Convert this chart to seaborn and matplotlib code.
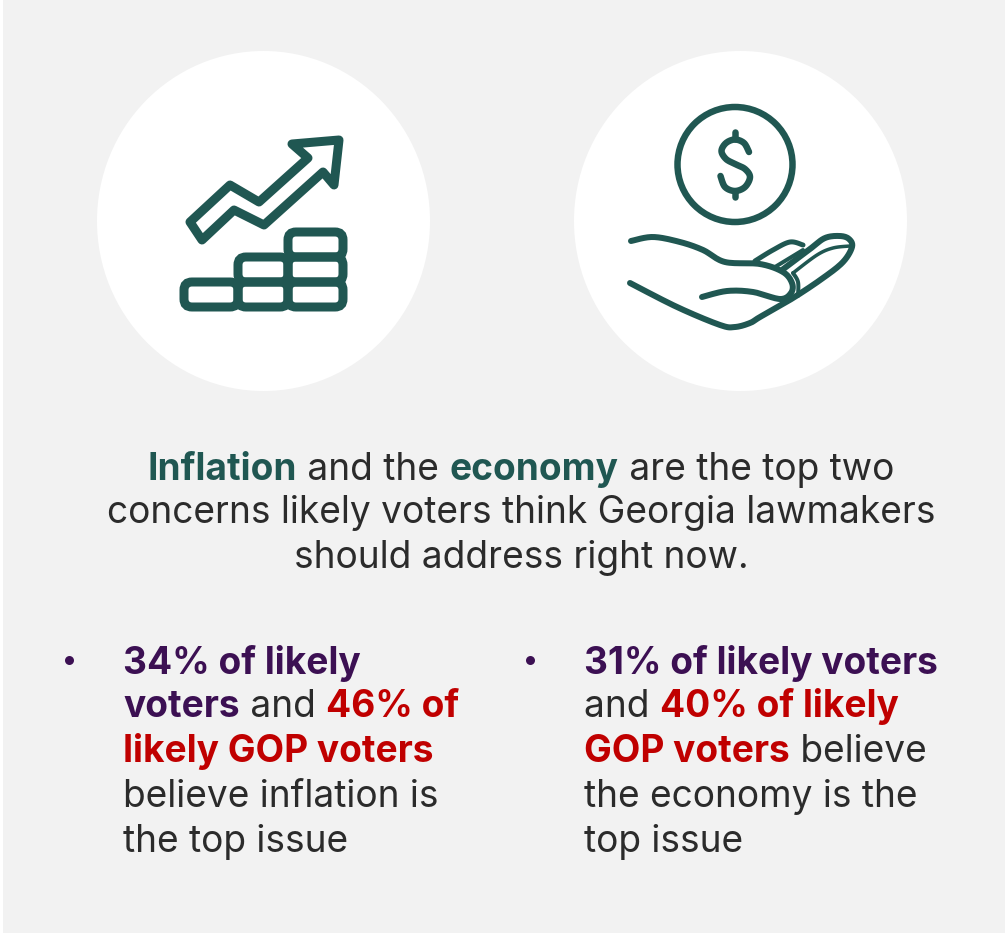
import matplotlib
matplotlib.use("Agg")
import matplotlib.pyplot as plt
from matplotlib.patches import Ellipse, FancyBboxPatch, Rectangle, Polygon, Circle
import numpy as np
import seaborn as sns

teal = "#205752"
purple = "#3c1053"
red = "#c00000"
ink = "#2b2b2b"
panel = "#f2f2f2"

# each line is a list of (text, colour, bold)
intro_lines = [
    [("Inflation", teal, True), (" and the ", ink, False), ("economy", teal, True), (" are the top two", ink, False)],
    [("concerns likely voters think Georgia lawmakers", ink, False)],
    [("should address right now.", ink, False)],
]
left_lines = [
    [("34% of likely", purple, True)],
    [("voters", purple, True), (" and ", ink, False), ("46% of", red, True)],
    [("likely GOP voters", red, True)],
    [("believe inflation is", ink, False)],
    [("the top issue", ink, False)],
]
right_lines = [
    [("31% of likely voters", purple, True)],
    [("and ", ink, False), ("40% of likely", red, True)],
    [("GOP voters", red, True), (" believe", ink, False)],
    [("the economy is the", ink, False)],
    [("top issue", ink, False)],
]
intro_base = [480, 523, 568]
bullet_base = [674, 717, 762, 807, 852]

# icon outlines, in picture pixels
arrow_outline = [(190, 222), (230, 185), (259, 202), (308, 158), (292, 144), (339, 140),
                 (334, 185), (323, 172), (264, 225), (234, 210), (202, 240)]
coins = [(184, 282, 54, 25), (238, 282, 50, 25), (288, 282, 55, 25),
         (238, 257, 50, 25), (288, 257, 55, 25), (288, 232, 55, 25)]
dollar_s = [(749, 152), (744, 143), (735, 139.5), (726, 143), (721.5, 151), (726, 159), (735, 164),
            (745, 169), (750, 177), (745, 187), (735, 191), (725, 187), (720.5, 176)]
palm_top = [(631, 241), (653, 237), (680, 242), (703, 250), (725, 262), (760, 264), (783, 272),
            (792, 283), (791, 293), (780, 299), (753, 292), (727, 291), (702, 297)]
palm_bottom = [(630, 283), (677, 307), (720, 325), (735, 327), (750, 323), (760, 317), (793, 298),
               (823, 278), (843, 262), (852, 247), (849, 239), (840, 236), (825, 238), (810, 249), (782, 270)]
finger_lines = [
    ([(755, 261), (773, 250), (790, 242), (803, 245)], 5),
    ([(775, 267), (803, 250)], 4),
    ([(793, 273), (817, 255), (833, 248), (850, 246)], 3.5),
    ([(793, 273), (798, 282), (798, 296)], 4),
]

sns.set_theme(style="white")
plt.rcParams["font.family"] = ["Inter", "DejaVu Sans"]

fig = plt.figure(figsize=(10.07, 9.33), dpi=100, facecolor="white")
ax = fig.add_axes([0, 0, 1, 1])
ax.set_xlim(0, 1007)
ax.set_ylim(933, 0)
ax.axis("off")


def px(w):
    return w * 72 / fig.dpi


def smooth(pts, n=14):
    # catmull-rom through the outline points, only for the icons
    p = np.array([pts[0]] + list(pts) + [pts[-1]], dtype=float)
    out = []
    for i in range(1, len(p) - 2):
        for t in np.linspace(0, 1, n, endpoint=False):
            out.append(0.5 * (2 * p[i] + (p[i + 1] - p[i - 1]) * t
                              + (2 * p[i - 1] - 5 * p[i] + 4 * p[i + 1] - p[i + 2]) * t ** 2
                              + (3 * p[i] - p[i - 1] - 3 * p[i + 1] + p[i + 2]) * t ** 3))
    out.append(p[-2])
    return np.array(out)


def stroke(pts, w=6.0):
    xy = smooth(pts)
    ax.plot(xy[:, 0], xy[:, 1], color=teal, lw=px(w), solid_capstyle="round", solid_joinstyle="round", zorder=3)


ax.add_patch(Rectangle((3, 0), 1002, 933, facecolor=panel, edgecolor="none", zorder=0))
for cx in [263.5, 740.5]:
    ax.add_patch(Ellipse((cx, 221), 333, 340, facecolor="white", edgecolor="none", zorder=1))

# left icon
ax.add_patch(Polygon(arrow_outline, closed=True, fill=False, edgecolor=teal, lw=px(9), joinstyle="round", zorder=3))
for x, y, w, h in coins:
    ax.add_patch(FancyBboxPatch((x + 8, y + 8), w - 16, h - 16, boxstyle="round,pad=8", fill=False,
                                edgecolor=teal, lw=px(9), zorder=3))

# right icon
ax.add_patch(Circle((735, 164.5), 57.5, fill=False, edgecolor=teal, lw=px(6.5), zorder=3))
stroke(dollar_s, 6.5)
ax.plot([735, 735], [132, 139], color=teal, lw=px(6.5), solid_capstyle="round", zorder=3)
ax.plot([735, 735], [191, 197], color=teal, lw=px(6.5), solid_capstyle="round", zorder=3)
stroke(palm_top)
stroke(palm_bottom)
for f, w in finger_lines:
    stroke(f, w)

renderer = fig.canvas.get_renderer()
FS = 26.7


def advance(s, bold):
    # width with spaces counted, the bar keeps trailing spaces from being dropped
    w = "bold" if bold else "normal"
    a = ax.text(0, 0, s + "|", fontsize=FS, fontweight=w)
    b = ax.text(0, 0, "|", fontsize=FS, fontweight=w)
    d = a.get_window_extent(renderer).width - b.get_window_extent(renderer).width
    a.remove()
    b.remove()
    return d


def put_line(segs, x, y, center=False):
    if center:
        x = x - sum(advance(s, b) for s, c, b in segs) / 2
    for s, c, b in segs:
        ax.text(x, y, s, color=c, fontsize=FS, fontweight="bold" if b else "normal", va="baseline", ha="left", zorder=4)
        x += advance(s, b)


for segs, y in zip(intro_lines, intro_base):
    put_line(segs, 521, y, center=True)
for segs, y in zip(left_lines, bullet_base):
    put_line(segs, 123, y)
for segs, y in zip(right_lines, bullet_base):
    put_line(segs, 584, y)

sns.scatterplot(x=[69, 530], y=[660, 660], color=purple, s=px(9) ** 2, linewidth=0, ax=ax, zorder=4, legend=False)
ax.set_xlim(0, 1007)
ax.set_ylim(933, 0)
ax.axis("off")

fig.savefig("out.png", dpi=100, facecolor="white")
